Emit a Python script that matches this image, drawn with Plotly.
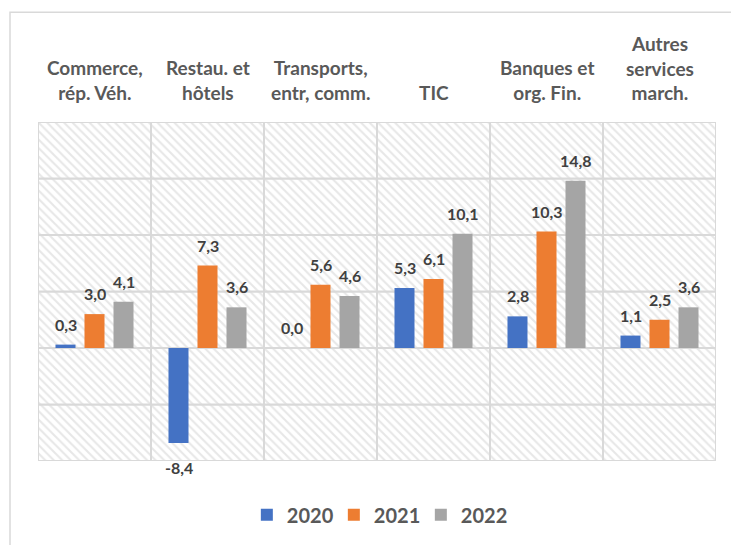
import plotly.graph_objects as go

categories = ["Commerce,<br>rép. Véh.", "Restau. et<br>hôtels", "Transports,<br>entr, comm.",
              "TIC", "Banques et<br>org. Fin.", "Autres<br>services<br>march."]
cat_keys = ["c1", "c2", "c3", "c4", "c5", "c6"]
years = ["2020", "2021", "2022"]
v2020 = [0.3, -8.4, 0.0, 5.3, 2.8, 1.1]
v2021 = [3.0, 7.3, 5.6, 6.1, 10.3, 2.5]
v2022 = [4.1, 3.6, 4.6, 10.1, 14.8, 3.6]
colors = ["#4472C4", "#ED7D31", "#A5A5A5"]
y_ticks = [-10, -5, 0, 5, 10, 15, 20]

series = [v2020, v2021, v2022]
FONT = "Lato"
bargap = 0.23
bargroupgap = 0.31

fig = go.Figure()

# hatched background cells (grid built from y tick levels)
step = y_ticks[1] - y_ticks[0]
bg_x, bg_base, bg_y = [], [], []
for k in cat_keys:
    for lv in y_ticks[:-1]:
        bg_x.append(k)
        bg_base.append(lv)
        bg_y.append(step)
fig.add_trace(go.Bar(
    x=bg_x, y=bg_y, base=bg_base, width=1, xaxis="x", yaxis="y",
    marker=dict(color="white", line=dict(color="#d9d9d9", width=2),
                pattern=dict(shape="\\", fgcolor="#cfcfcf", bgcolor="white", size=6, solidity=0.35)),
    hoverinfo="skip", showlegend=False))

for name, vals, col in zip(years, series, colors):
    fig.add_trace(go.Bar(
        x=cat_keys, y=vals, name="<b>" + name + "</b>", xaxis="x2", yaxis="y2",
        marker=dict(color=col, line=dict(width=0))))

annotations = []
slot = (1 - bargap) / 3
for s, vals in enumerate(series):
    for i, v in enumerate(vals):
        txt = "<b>" + f"{v:.1f}".replace(".", ",") + "</b>"
        if v >= 0:
            annotations.append(dict(x=i + (s - 1) * slot, y=v, xref="x2", yref="y2", text=txt,
                                    showarrow=False, yanchor="bottom", yshift=9,
                                    font=dict(family=FONT, size=16, color="#404040")))
        else:
            annotations.append(dict(x=i + (s - 1) * slot, y=v, xref="x2", yref="y2", text=txt,
                                    showarrow=False, yanchor="top", yshift=-13,
                                    font=dict(family=FONT, size=16, color="#404040")))

for i, c in enumerate(categories):
    annotations.append(dict(x=i, y=1, xref="x2", yref="paper", text="<b>" + c + "</b>",
                            showarrow=False, yanchor="bottom", yshift=16, align="center",
                            font=dict(family=FONT, size=19, color="#595959")))

W, H = 731, 545
ml, mr, mt, mb = 38, 15, 122, 83
pw, ph = W - ml - mr, H - mt - mb

fig.update_layout(
    width=W, height=H,
    margin=dict(l=ml, r=mr, t=mt, b=mb, pad=0),
    paper_bgcolor="white", plot_bgcolor="white",
    barmode="group", bargap=bargap, bargroupgap=bargroupgap,
    xaxis=dict(type="category", categoryarray=cat_keys, range=[-0.5, 5.5], showticklabels=False,
               showgrid=False, zeroline=False, showline=False, ticks=""),
    yaxis=dict(range=[y_ticks[0], y_ticks[-1]], showticklabels=False, showgrid=False,
               zeroline=False, showline=False, ticks=""),
    xaxis2=dict(type="category", categoryarray=cat_keys, range=[-0.5, 5.5], overlaying="x",
                visible=False),
    yaxis2=dict(range=[y_ticks[0], y_ticks[-1]], overlaying="y", visible=False),
    legend=dict(orientation="h", x=0.5005, xanchor="center", y=-0.155, yanchor="middle",
                entrywidthmode="pixels", entrywidth=42,
                font=dict(family=FONT, size=20, color="#595959"), bgcolor="rgba(0,0,0,0)"),
    annotations=annotations,
    shapes=[dict(type="rect", xref="paper", yref="paper",
                 x0=(10 - ml) / pw, x1=1.2, y0=-0.6, y1=1 + (mt - 12) / ph,
                 line=dict(color="#d9d9d9", width=1.5), fillcolor="rgba(0,0,0,0)", layer="below")],
    font=dict(family=FONT),
)

fig.write_html("out.html", config={"displayModeBar": False},
               post_script="document.body.style.margin='0';document.body.style.overflow='hidden';")
